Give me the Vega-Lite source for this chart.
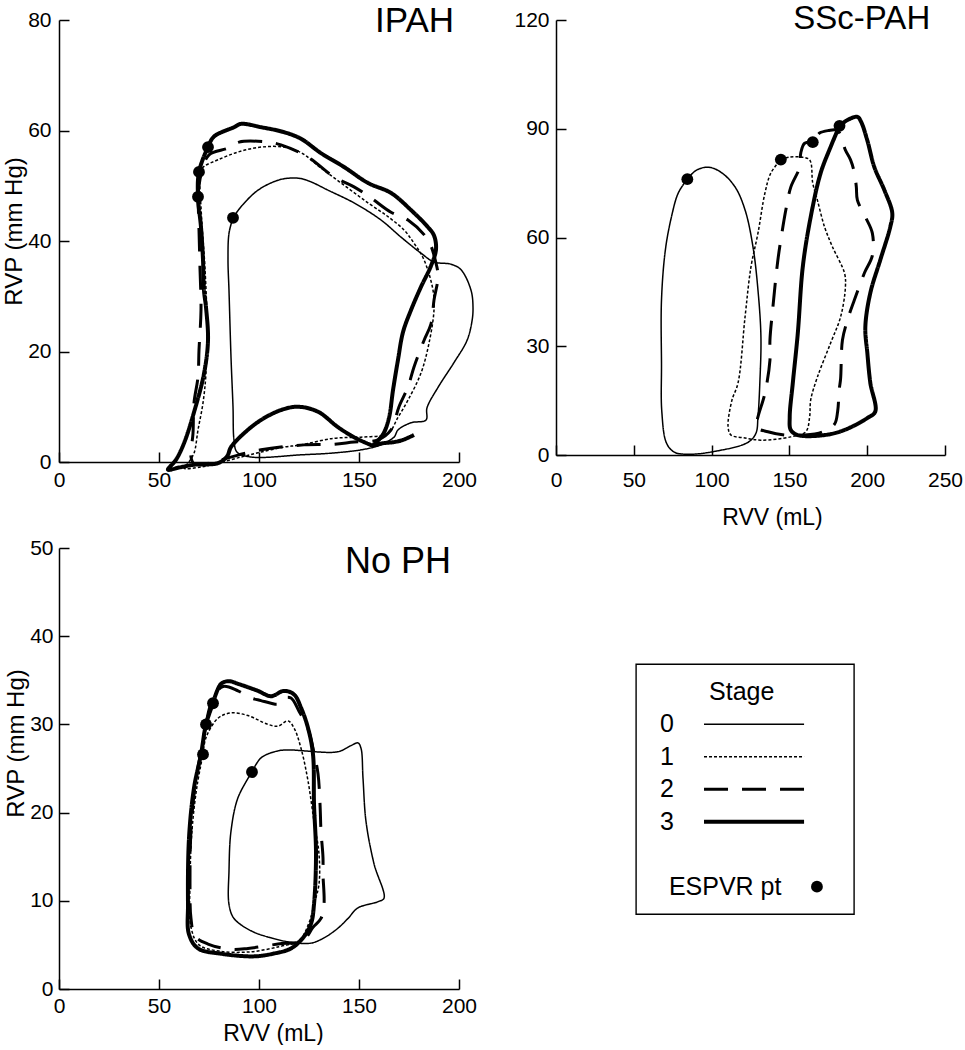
{
"$schema": "https://vega.github.io/schema/vega-lite/v6.json",
"padding": {"left": 2, "top": 3, "right": 0, "bottom": 0},
"background": "white",
"config": {
  "view": {"stroke": null},
  "font": "Liberation Sans",
  "axis": {"domainColor": "black", "domainWidth": 1.5, "tickColor": "black", "tickWidth": 1.5, "tickSize": -10, "grid": false,
    "labelFont": "Liberation Sans", "labelFontSize": 21, "labelColor": "black", "labelFlush": false, "labelOverlap": false, "labelBound": false,
    "titleFont": "Liberation Sans", "titleFontSize": 23, "titleFontWeight": "normal", "titleColor": "black"},
  "axisY": {"titleFontSize": 24},
  "text": {"font": "Liberation Sans", "color": "black"}
},
"datasets": {
"loops": [
{"panel":"IPAH","stage":"3","rvv":157,"rvp":3},{"panel":"IPAH","stage":"3","rvv":162,"rvp":5},{"panel":"IPAH","stage":"3","rvv":165,"rvp":8},{"panel":"IPAH","stage":"3","rvv":167,"rvp":13},{"panel":"IPAH","stage":"3","rvv":169.5,"rvp":18.5},{"panel":"IPAH","stage":"3","rvv":172,"rvp":23.5},{"panel":"IPAH","stage":"3","rvv":176,"rvp":27.5},{"panel":"IPAH","stage":"3","rvv":181,"rvp":31.7},{"panel":"IPAH","stage":"3","rvv":186,"rvp":35.5},{"panel":"IPAH","stage":"3","rvv":188.5,"rvp":38.5},{"panel":"IPAH","stage":"3","rvv":187.5,"rvp":41},{"panel":"IPAH","stage":"3","rvv":184.5,"rvp":42.5},{"panel":"IPAH","stage":"3","rvv":176,"rvp":45.6},{"panel":"IPAH","stage":"3","rvv":166,"rvp":48.7},{"panel":"IPAH","stage":"3","rvv":154.5,"rvp":50.5},{"panel":"IPAH","stage":"3","rvv":142.5,"rvp":53.4},{"panel":"IPAH","stage":"3","rvv":131,"rvp":55.9},{"panel":"IPAH","stage":"3","rvv":121,"rvp":58.5},{"panel":"IPAH","stage":"3","rvv":112.5,"rvp":59.7},{"panel":"IPAH","stage":"3","rvv":101,"rvp":60.6},{"panel":"IPAH","stage":"3","rvv":91,"rvp":61.2},{"panel":"IPAH","stage":"3","rvv":87.5,"rvp":60.6},{"panel":"IPAH","stage":"3","rvv":77.5,"rvp":58.9},{"panel":"IPAH","stage":"3","rvv":74.5,"rvp":57},{"panel":"IPAH","stage":"3","rvv":70,"rvp":52.5},{"panel":"IPAH","stage":"3","rvv":69.5,"rvp":48},{"panel":"IPAH","stage":"3","rvv":71,"rvp":42.5},{"panel":"IPAH","stage":"3","rvv":72,"rvp":36.6},{"panel":"IPAH","stage":"3","rvv":72.5,"rvp":31},{"panel":"IPAH","stage":"3","rvv":73.5,"rvp":28},{"panel":"IPAH","stage":"3","rvv":74.5,"rvp":22},{"panel":"IPAH","stage":"3","rvv":72.5,"rvp":16},{"panel":"IPAH","stage":"3","rvv":67.5,"rvp":9},{"panel":"IPAH","stage":"3","rvv":62.5,"rvp":3.4},{"panel":"IPAH","stage":"3","rvv":58.5,"rvp":0.4},{"panel":"IPAH","stage":"3","rvv":54.5,"rvp":-1.4},{"panel":"IPAH","stage":"3","rvv":60,"rvp":-1},{"panel":"IPAH","stage":"3","rvv":67.5,"rvp":-0.5},{"panel":"IPAH","stage":"3","rvv":79.5,"rvp":-0.2},{"panel":"IPAH","stage":"3","rvv":84,"rvp":1},{"panel":"IPAH","stage":"3","rvv":86,"rvp":2.7},{"panel":"IPAH","stage":"3","rvv":92.5,"rvp":5.2},{"panel":"IPAH","stage":"3","rvv":101,"rvp":7.6},{"panel":"IPAH","stage":"3","rvv":111,"rvp":9.4},{"panel":"IPAH","stage":"3","rvv":119.5,"rvp":10},{"panel":"IPAH","stage":"3","rvv":129.5,"rvp":9.1},{"panel":"IPAH","stage":"3","rvv":139.5,"rvp":6.3},{"panel":"IPAH","stage":"3","rvv":147.5,"rvp":4.5},{"panel":"IPAH","stage":"3","rvv":154.5,"rvp":3.3},{"panel":"IPAH","stage":"3","rvv":157,"rvp":3},{"panel":"IPAH","stage":"3","rvv":162,"rvp":3.4},{"panel":"IPAH","stage":"3","rvv":167.5,"rvp":3.6},{"panel":"IPAH","stage":"3","rvv":172,"rvp":4},{"panel":"IPAH","stage":"3","rvv":177.5,"rvp":4.9},
{"panel":"IPAH","stage":"2","rvv":69.5,"rvp":48},{"panel":"IPAH","stage":"2","rvv":71,"rvp":52},{"panel":"IPAH","stage":"2","rvv":75,"rvp":55.6},{"panel":"IPAH","stage":"2","rvv":84.5,"rvp":56.8},{"panel":"IPAH","stage":"2","rvv":90,"rvp":57.9},{"panel":"IPAH","stage":"2","rvv":104.5,"rvp":57.9},{"panel":"IPAH","stage":"2","rvv":111,"rvp":57.4},{"panel":"IPAH","stage":"2","rvv":124.5,"rvp":55.2},{"panel":"IPAH","stage":"2","rvv":137.5,"rvp":51.6},{"panel":"IPAH","stage":"2","rvv":147.5,"rvp":49.8},{"panel":"IPAH","stage":"2","rvv":156,"rvp":47.8},{"panel":"IPAH","stage":"2","rvv":166,"rvp":45.2},{"panel":"IPAH","stage":"2","rvv":174.5,"rvp":43.8},{"panel":"IPAH","stage":"2","rvv":184.5,"rvp":40.2},{"panel":"IPAH","stage":"2","rvv":188.5,"rvp":36},{"panel":"IPAH","stage":"2","rvv":189.5,"rvp":33.5},{"panel":"IPAH","stage":"2","rvv":187.5,"rvp":29.3},{"panel":"IPAH","stage":"2","rvv":186,"rvp":25},{"panel":"IPAH","stage":"2","rvv":182.5,"rvp":22},{"panel":"IPAH","stage":"2","rvv":177.5,"rvp":17.2},{"panel":"IPAH","stage":"2","rvv":174.5,"rvp":13.6},{"panel":"IPAH","stage":"2","rvv":170,"rvp":10},{"panel":"IPAH","stage":"2","rvv":166,"rvp":5.8},{"panel":"IPAH","stage":"2","rvv":159.5,"rvp":4},{"panel":"IPAH","stage":"2","rvv":147.5,"rvp":3.6},{"panel":"IPAH","stage":"2","rvv":137,"rvp":3.2},{"panel":"IPAH","stage":"2","rvv":122.5,"rvp":3.1},{"panel":"IPAH","stage":"2","rvv":101,"rvp":2.2},{"panel":"IPAH","stage":"2","rvv":85,"rvp":0.8},{"panel":"IPAH","stage":"2","rvv":75,"rvp":-0.2},{"panel":"IPAH","stage":"2","rvv":67.5,"rvp":-0.3},{"panel":"IPAH","stage":"2","rvv":66,"rvp":0.9},{"panel":"IPAH","stage":"2","rvv":67,"rvp":5.2},{"panel":"IPAH","stage":"2","rvv":67.5,"rvp":10.7},{"panel":"IPAH","stage":"2","rvv":69.5,"rvp":15.4},{"panel":"IPAH","stage":"2","rvv":70,"rvp":20.3},{"panel":"IPAH","stage":"2","rvv":71,"rvp":27.5},{"panel":"IPAH","stage":"2","rvv":70.5,"rvp":35},{"panel":"IPAH","stage":"2","rvv":70,"rvp":42},{"panel":"IPAH","stage":"2","rvv":69.5,"rvp":48},
{"panel":"IPAH","stage":"1","rvv":70,"rvp":52.5},{"panel":"IPAH","stage":"1","rvv":72.5,"rvp":53.5},{"panel":"IPAH","stage":"1","rvv":79.5,"rvp":54.7},{"panel":"IPAH","stage":"1","rvv":89.5,"rvp":56.1},{"panel":"IPAH","stage":"1","rvv":101,"rvp":57},{"panel":"IPAH","stage":"1","rvv":112.5,"rvp":57},{"panel":"IPAH","stage":"1","rvv":121,"rvp":56},{"panel":"IPAH","stage":"1","rvv":131,"rvp":53.2},{"panel":"IPAH","stage":"1","rvv":142.5,"rvp":50.1},{"panel":"IPAH","stage":"1","rvv":154.5,"rvp":46.9},{"panel":"IPAH","stage":"1","rvv":164.5,"rvp":44.4},{"panel":"IPAH","stage":"1","rvv":172.5,"rvp":42},{"panel":"IPAH","stage":"1","rvv":177.5,"rvp":39.6},{"panel":"IPAH","stage":"1","rvv":182.5,"rvp":36.6},{"panel":"IPAH","stage":"1","rvv":187,"rvp":31.1},{"panel":"IPAH","stage":"1","rvv":187.5,"rvp":27.5},{"panel":"IPAH","stage":"1","rvv":185,"rvp":21.5},{"panel":"IPAH","stage":"1","rvv":181,"rvp":16.1},{"panel":"IPAH","stage":"1","rvv":174.5,"rvp":11.2},{"panel":"IPAH","stage":"1","rvv":169.5,"rvp":8.1},{"panel":"IPAH","stage":"1","rvv":164.5,"rvp":5.2},{"panel":"IPAH","stage":"1","rvv":151,"rvp":4.5},{"panel":"IPAH","stage":"1","rvv":137.5,"rvp":4.3},{"panel":"IPAH","stage":"1","rvv":121,"rvp":3.1},{"panel":"IPAH","stage":"1","rvv":112.5,"rvp":2.7},{"panel":"IPAH","stage":"1","rvv":101,"rvp":1.8},{"panel":"IPAH","stage":"1","rvv":91,"rvp":0.9},{"panel":"IPAH","stage":"1","rvv":79.5,"rvp":-0.2},{"panel":"IPAH","stage":"1","rvv":71,"rvp":-0.9},{"panel":"IPAH","stage":"1","rvv":62.5,"rvp":-1.1},{"panel":"IPAH","stage":"1","rvv":64.5,"rvp":-0.2},{"panel":"IPAH","stage":"1","rvv":67.5,"rvp":1.6},{"panel":"IPAH","stage":"1","rvv":69.5,"rvp":5.8},{"panel":"IPAH","stage":"1","rvv":72,"rvp":10.7},{"panel":"IPAH","stage":"1","rvv":73.5,"rvp":16.1},{"panel":"IPAH","stage":"1","rvv":74,"rvp":25},{"panel":"IPAH","stage":"1","rvv":73,"rvp":35},{"panel":"IPAH","stage":"1","rvv":71.5,"rvp":43},{"panel":"IPAH","stage":"1","rvv":70,"rvp":52.5},
{"panel":"IPAH","stage":"0","rvv":87,"rvp":44.2},{"panel":"IPAH","stage":"0","rvv":91,"rvp":46.2},{"panel":"IPAH","stage":"0","rvv":99.5,"rvp":49.2},{"panel":"IPAH","stage":"0","rvv":109.5,"rvp":51},{"panel":"IPAH","stage":"0","rvv":116,"rvp":51.4},{"panel":"IPAH","stage":"0","rvv":121,"rvp":51.3},{"panel":"IPAH","stage":"0","rvv":126,"rvp":50.7},{"panel":"IPAH","stage":"0","rvv":134.5,"rvp":49.2},{"panel":"IPAH","stage":"0","rvv":147.5,"rvp":46.9},{"panel":"IPAH","stage":"0","rvv":161,"rvp":43.8},{"panel":"IPAH","stage":"0","rvv":171,"rvp":40.7},{"panel":"IPAH","stage":"0","rvv":181,"rvp":37.8},{"panel":"IPAH","stage":"0","rvv":187.5,"rvp":36.2},{"panel":"IPAH","stage":"0","rvv":196,"rvp":35.8},{"panel":"IPAH","stage":"0","rvv":201,"rvp":34.8},{"panel":"IPAH","stage":"0","rvv":206,"rvp":31.1},{"panel":"IPAH","stage":"0","rvv":207,"rvp":28},{"panel":"IPAH","stage":"0","rvv":206.5,"rvp":25.5},{"panel":"IPAH","stage":"0","rvv":204,"rvp":22},{"panel":"IPAH","stage":"0","rvv":197.5,"rvp":18},{"panel":"IPAH","stage":"0","rvv":189.5,"rvp":13.5},{"panel":"IPAH","stage":"0","rvv":184,"rvp":9.8},{"panel":"IPAH","stage":"0","rvv":183.5,"rvp":7.6},{"panel":"IPAH","stage":"0","rvv":176,"rvp":7.1},{"panel":"IPAH","stage":"0","rvv":169.5,"rvp":5.8},{"panel":"IPAH","stage":"0","rvv":167.5,"rvp":4.5},{"panel":"IPAH","stage":"0","rvv":160,"rvp":3},{"panel":"IPAH","stage":"0","rvv":151,"rvp":2.2},{"panel":"IPAH","stage":"0","rvv":136,"rvp":1.6},{"panel":"IPAH","stage":"0","rvv":121,"rvp":1.3},{"panel":"IPAH","stage":"0","rvv":96,"rvp":0.9},{"panel":"IPAH","stage":"0","rvv":89,"rvp":1.8},{"panel":"IPAH","stage":"0","rvv":87.5,"rvp":4},{"panel":"IPAH","stage":"0","rvv":87,"rvp":10},{"panel":"IPAH","stage":"0","rvv":86,"rvp":19},{"panel":"IPAH","stage":"0","rvv":85,"rvp":31},{"panel":"IPAH","stage":"0","rvv":84.5,"rvp":36.6},{"panel":"IPAH","stage":"0","rvv":85,"rvp":41.4},{"panel":"IPAH","stage":"0","rvv":87,"rvp":44.2},
{"panel":"SSc","stage":"0","rvv":84.4,"rvp":76.1},{"panel":"SSc","stage":"0","rvv":90,"rvp":78.5},{"panel":"SSc","stage":"0","rvv":97.8,"rvp":79.4},{"panel":"SSc","stage":"0","rvv":106,"rvp":78},{"panel":"SSc","stage":"0","rvv":115,"rvp":74},{"panel":"SSc","stage":"0","rvv":121.5,"rvp":67.6},{"panel":"SSc","stage":"0","rvv":126.6,"rvp":57.4},{"panel":"SSc","stage":"0","rvv":129.8,"rvp":45.5},{"panel":"SSc","stage":"0","rvv":131.7,"rvp":32.6},{"panel":"SSc","stage":"0","rvv":131,"rvp":19.9},{"panel":"SSc","stage":"0","rvv":129.8,"rvp":10.5},{"panel":"SSc","stage":"0","rvv":128.5,"rvp":6},{"panel":"SSc","stage":"0","rvv":123.4,"rvp":3.5},{"panel":"SSc","stage":"0","rvv":102,"rvp":1},{"panel":"SSc","stage":"0","rvv":85,"rvp":0.2},{"panel":"SSc","stage":"0","rvv":76,"rvp":0.8},{"panel":"SSc","stage":"0","rvv":71,"rvp":3.3},{"panel":"SSc","stage":"0","rvv":68,"rvp":12},{"panel":"SSc","stage":"0","rvv":67.8,"rvp":25},{"panel":"SSc","stage":"0","rvv":67.8,"rvp":42.8},{"panel":"SSc","stage":"0","rvv":70.3,"rvp":56.6},{"panel":"SSc","stage":"0","rvv":74.2,"rvp":65.7},{"panel":"SSc","stage":"0","rvv":78.6,"rvp":72.3},{"panel":"SSc","stage":"0","rvv":84.4,"rvp":76.1},
{"panel":"SSc","stage":"1","rvv":144.5,"rvp":81.5},{"panel":"SSc","stage":"1","rvv":150,"rvp":82.2},{"panel":"SSc","stage":"1","rvv":157.3,"rvp":82.2},{"panel":"SSc","stage":"1","rvv":163,"rvp":81.4},{"panel":"SSc","stage":"1","rvv":165,"rvp":75},{"panel":"SSc","stage":"1","rvv":168,"rvp":70.3},{"panel":"SSc","stage":"1","rvv":172.6,"rvp":62.9},{"panel":"SSc","stage":"1","rvv":177.7,"rvp":57.4},{"panel":"SSc","stage":"1","rvv":185.4,"rvp":50.2},{"panel":"SSc","stage":"1","rvv":186,"rvp":46.3},{"panel":"SSc","stage":"1","rvv":182.9,"rvp":38.1},{"panel":"SSc","stage":"1","rvv":176.5,"rvp":30.9},{"panel":"SSc","stage":"1","rvv":168,"rvp":21.5},{"panel":"SSc","stage":"1","rvv":163.7,"rvp":15.2},{"panel":"SSc","stage":"1","rvv":163,"rvp":10.5},{"panel":"SSc","stage":"1","rvv":160.5,"rvp":6.4},{"panel":"SSc","stage":"1","rvv":150.9,"rvp":5},{"panel":"SSc","stage":"1","rvv":131.7,"rvp":4.1},{"panel":"SSc","stage":"1","rvv":121.5,"rvp":4.7},{"panel":"SSc","stage":"1","rvv":112.5,"rvp":5.5},{"panel":"SSc","stage":"1","rvv":110.6,"rvp":7.7},{"panel":"SSc","stage":"1","rvv":113,"rvp":15},{"panel":"SSc","stage":"1","rvv":117,"rvp":19.9},{"panel":"SSc","stage":"1","rvv":121.5,"rvp":38.1},{"panel":"SSc","stage":"1","rvv":125.3,"rvp":51.9},{"panel":"SSc","stage":"1","rvv":129.8,"rvp":61.2},{"panel":"SSc","stage":"1","rvv":134.3,"rvp":72.3},{"panel":"SSc","stage":"1","rvv":138.1,"rvp":77.8},{"panel":"SSc","stage":"1","rvv":144.5,"rvp":81.5},
{"panel":"SSc","stage":"2","rvv":165,"rvp":86.3},{"panel":"SSc","stage":"2","rvv":159.8,"rvp":86},{"panel":"SSc","stage":"2","rvv":157.3,"rvp":83.3},{"panel":"SSc","stage":"2","rvv":156.6,"rvp":79.4},{"panel":"SSc","stage":"2","rvv":150.9,"rvp":73.9},{"panel":"SSc","stage":"2","rvv":147.7,"rvp":67.6},{"panel":"SSc","stage":"2","rvv":145.8,"rvp":62.9},{"panel":"SSc","stage":"2","rvv":142.6,"rvp":53.8},{"panel":"SSc","stage":"2","rvv":139.4,"rvp":40.8},{"panel":"SSc","stage":"2","rvv":137.5,"rvp":31.7},{"panel":"SSc","stage":"2","rvv":137.5,"rvp":26.2},{"panel":"SSc","stage":"2","rvv":134.3,"rvp":17.1},{"panel":"SSc","stage":"2","rvv":129.8,"rvp":10.5},{"panel":"SSc","stage":"2","rvv":128.5,"rvp":7.7},{"panel":"SSc","stage":"2","rvv":136.2,"rvp":6.4},{"panel":"SSc","stage":"2","rvv":147,"rvp":5.5},{"panel":"SSc","stage":"2","rvv":160,"rvp":5.5},{"panel":"SSc","stage":"2","rvv":172,"rvp":6.5},{"panel":"SSc","stage":"2","rvv":179,"rvp":8.5},{"panel":"SSc","stage":"2","rvv":181,"rvp":12},{"panel":"SSc","stage":"2","rvv":182,"rvp":18},{"panel":"SSc","stage":"2","rvv":182.9,"rvp":21},{"panel":"SSc","stage":"2","rvv":184.1,"rvp":31.7},{"panel":"SSc","stage":"2","rvv":187.3,"rvp":37.2},{"panel":"SSc","stage":"2","rvv":191.8,"rvp":42.8},{"panel":"SSc","stage":"2","rvv":198.2,"rvp":50.2},{"panel":"SSc","stage":"2","rvv":203.3,"rvp":55},{"panel":"SSc","stage":"2","rvv":203.3,"rvp":61.2},{"panel":"SSc","stage":"2","rvv":198.8,"rvp":65.7},{"panel":"SSc","stage":"2","rvv":193.7,"rvp":70.3},{"panel":"SSc","stage":"2","rvv":193,"rvp":74},{"panel":"SSc","stage":"2","rvv":191.8,"rvp":77.8},{"panel":"SSc","stage":"2","rvv":189.3,"rvp":81.4},{"panel":"SSc","stage":"2","rvv":186,"rvp":84.1},{"panel":"SSc","stage":"2","rvv":181,"rvp":89.5},{"panel":"SSc","stage":"2","rvv":175,"rvp":89.5},{"panel":"SSc","stage":"2","rvv":169.4,"rvp":88.8},{"panel":"SSc","stage":"2","rvv":165,"rvp":86.3},
{"panel":"SSc","stage":"3","rvv":182.2,"rvp":90.8},{"panel":"SSc","stage":"3","rvv":187.3,"rvp":92.4},{"panel":"SSc","stage":"3","rvv":193.7,"rvp":93.3},{"panel":"SSc","stage":"3","rvv":196,"rvp":92},{"panel":"SSc","stage":"3","rvv":200,"rvp":86.9},{"panel":"SSc","stage":"3","rvv":204.6,"rvp":79.4},{"panel":"SSc","stage":"3","rvv":211,"rvp":73.1},{"panel":"SSc","stage":"3","rvv":216.1,"rvp":66.8},{"panel":"SSc","stage":"3","rvv":214.8,"rvp":62.9},{"panel":"SSc","stage":"3","rvv":208.4,"rvp":53.8},{"panel":"SSc","stage":"3","rvv":202,"rvp":44.7},{"panel":"SSc","stage":"3","rvv":198.8,"rvp":35.3},{"panel":"SSc","stage":"3","rvv":200.1,"rvp":28.1},{"panel":"SSc","stage":"3","rvv":202,"rvp":19.9},{"panel":"SSc","stage":"3","rvv":205.2,"rvp":12},{"panel":"SSc","stage":"3","rvv":200.1,"rvp":10.2},{"panel":"SSc","stage":"3","rvv":185.4,"rvp":6.9},{"panel":"SSc","stage":"3","rvv":172.6,"rvp":5.5},{"panel":"SSc","stage":"3","rvv":155.4,"rvp":5.5},{"panel":"SSc","stage":"3","rvv":150.9,"rvp":6.9},{"panel":"SSc","stage":"3","rvv":150.2,"rvp":10.5},{"panel":"SSc","stage":"3","rvv":152.2,"rvp":19.9},{"panel":"SSc","stage":"3","rvv":155.4,"rvp":33.6},{"panel":"SSc","stage":"3","rvv":158.6,"rvp":51.9},{"panel":"SSc","stage":"3","rvv":163.7,"rvp":65.7},{"panel":"SSc","stage":"3","rvv":170.1,"rvp":77.8},{"panel":"SSc","stage":"3","rvv":176.5,"rvp":85},{"panel":"SSc","stage":"3","rvv":182.2,"rvp":90.8},
{"panel":"NoPH","stage":"0","rvv":96.5,"rvp":24.6},{"panel":"NoPH","stage":"0","rvv":101,"rvp":26.2},{"panel":"NoPH","stage":"0","rvv":109.5,"rvp":27},{"panel":"NoPH","stage":"0","rvv":116,"rvp":27.1},{"panel":"NoPH","stage":"0","rvv":122.5,"rvp":27},{"panel":"NoPH","stage":"0","rvv":139.5,"rvp":26.9},{"panel":"NoPH","stage":"0","rvv":146,"rvp":27.6},{"panel":"NoPH","stage":"0","rvv":149.5,"rvp":27.9},{"panel":"NoPH","stage":"0","rvv":151,"rvp":27.3},{"panel":"NoPH","stage":"0","rvv":152,"rvp":23.9},{"panel":"NoPH","stage":"0","rvv":153.5,"rvp":19},{"panel":"NoPH","stage":"0","rvv":157.5,"rvp":14.2},{"panel":"NoPH","stage":"0","rvv":162.5,"rvp":10.3},{"panel":"NoPH","stage":"0","rvv":159.5,"rvp":9.9},{"panel":"NoPH","stage":"0","rvv":149.5,"rvp":9.2},{"panel":"NoPH","stage":"0","rvv":144.5,"rvp":8},{"panel":"NoPH","stage":"0","rvv":139.5,"rvp":6.9},{"panel":"NoPH","stage":"0","rvv":132.5,"rvp":5.8},{"panel":"NoPH","stage":"0","rvv":126,"rvp":5.2},{"panel":"NoPH","stage":"0","rvv":116,"rvp":5.3},{"panel":"NoPH","stage":"0","rvv":106,"rvp":5.8},{"panel":"NoPH","stage":"0","rvv":96,"rvp":6.6},{"panel":"NoPH","stage":"0","rvv":87.5,"rvp":8},{"panel":"NoPH","stage":"0","rvv":85,"rvp":9.6},{"panel":"NoPH","stage":"0","rvv":85,"rvp":13.4},{"panel":"NoPH","stage":"0","rvv":86,"rvp":17.9},{"panel":"NoPH","stage":"0","rvv":89.5,"rvp":21.7},{"panel":"NoPH","stage":"0","rvv":96.5,"rvp":24.6},
{"panel":"NoPH","stage":"1","rvv":72,"rvp":26.6},{"panel":"NoPH","stage":"1","rvv":73.5,"rvp":28.5},{"panel":"NoPH","stage":"1","rvv":79.5,"rvp":30.7},{"panel":"NoPH","stage":"1","rvv":86,"rvp":31.3},{"panel":"NoPH","stage":"1","rvv":94.5,"rvp":31},{"panel":"NoPH","stage":"1","rvv":104.5,"rvp":30},{"panel":"NoPH","stage":"1","rvv":109.5,"rvp":29.8},{"panel":"NoPH","stage":"1","rvv":114.5,"rvp":30.4},{"panel":"NoPH","stage":"1","rvv":117.5,"rvp":29.6},{"panel":"NoPH","stage":"1","rvv":121,"rvp":27.3},{"panel":"NoPH","stage":"1","rvv":124.5,"rvp":23.6},{"panel":"NoPH","stage":"1","rvv":127.5,"rvp":19},{"panel":"NoPH","stage":"1","rvv":130,"rvp":15.3},{"panel":"NoPH","stage":"1","rvv":130,"rvp":11.9},{"panel":"NoPH","stage":"1","rvv":127.5,"rvp":9.6},{"panel":"NoPH","stage":"1","rvv":125,"rvp":7.5},{"panel":"NoPH","stage":"1","rvv":120,"rvp":5.5},{"panel":"NoPH","stage":"1","rvv":110,"rvp":4.8},{"panel":"NoPH","stage":"1","rvv":95,"rvp":4.2},{"panel":"NoPH","stage":"1","rvv":80,"rvp":4.3},{"panel":"NoPH","stage":"1","rvv":70,"rvp":5},{"panel":"NoPH","stage":"1","rvv":66,"rvp":7},{"panel":"NoPH","stage":"1","rvv":65.5,"rvp":12},{"panel":"NoPH","stage":"1","rvv":66.5,"rvp":18},{"panel":"NoPH","stage":"1","rvv":69,"rvp":23},{"panel":"NoPH","stage":"1","rvv":72,"rvp":26.6},
{"panel":"NoPH","stage":"2","rvv":73.5,"rvp":30},{"panel":"NoPH","stage":"2","rvv":77,"rvp":33},{"panel":"NoPH","stage":"2","rvv":82,"rvp":34.3},{"panel":"NoPH","stage":"2","rvv":89.5,"rvp":33.8},{"panel":"NoPH","stage":"2","rvv":96,"rvp":33},{"panel":"NoPH","stage":"2","rvv":101,"rvp":32.7},{"panel":"NoPH","stage":"2","rvv":106,"rvp":32.4},{"panel":"NoPH","stage":"2","rvv":109.5,"rvp":32.3},{"panel":"NoPH","stage":"2","rvv":112.5,"rvp":33},{"panel":"NoPH","stage":"2","rvv":116,"rvp":33},{"panel":"NoPH","stage":"2","rvv":120,"rvp":31.5},{"panel":"NoPH","stage":"2","rvv":124.5,"rvp":29.5},{"panel":"NoPH","stage":"2","rvv":127,"rvp":27.3},{"panel":"NoPH","stage":"2","rvv":129.5,"rvp":24.4},{"panel":"NoPH","stage":"2","rvv":130.5,"rvp":21},{"panel":"NoPH","stage":"2","rvv":131,"rvp":17.9},{"panel":"NoPH","stage":"2","rvv":132,"rvp":14.9},{"panel":"NoPH","stage":"2","rvv":132,"rvp":13},{"panel":"NoPH","stage":"2","rvv":132.5,"rvp":9.6},{"panel":"NoPH","stage":"2","rvv":131,"rvp":8},{"panel":"NoPH","stage":"2","rvv":127,"rvp":7},{"panel":"NoPH","stage":"2","rvv":122,"rvp":5.5},{"panel":"NoPH","stage":"2","rvv":109.5,"rvp":5.1},{"panel":"NoPH","stage":"2","rvv":94.5,"rvp":4.6},{"panel":"NoPH","stage":"2","rvv":86,"rvp":4.5},{"panel":"NoPH","stage":"2","rvv":74.5,"rvp":5.1},{"panel":"NoPH","stage":"2","rvv":68,"rvp":6},{"panel":"NoPH","stage":"2","rvv":66,"rvp":8},{"panel":"NoPH","stage":"2","rvv":65.5,"rvp":12},{"panel":"NoPH","stage":"2","rvv":66,"rvp":18},{"panel":"NoPH","stage":"2","rvv":68,"rvp":23},{"panel":"NoPH","stage":"2","rvv":71,"rvp":27},{"panel":"NoPH","stage":"2","rvv":73.5,"rvp":30},
{"panel":"NoPH","stage":"3","rvv":77,"rvp":32.4},{"panel":"NoPH","stage":"3","rvv":81,"rvp":34.6},{"panel":"NoPH","stage":"3","rvv":85,"rvp":34.9},{"panel":"NoPH","stage":"3","rvv":89.5,"rvp":34.6},{"panel":"NoPH","stage":"3","rvv":99.5,"rvp":33.8},{"panel":"NoPH","stage":"3","rvv":106,"rvp":33.2},{"panel":"NoPH","stage":"3","rvv":112.5,"rvp":33.8},{"panel":"NoPH","stage":"3","rvv":117.5,"rvp":33.4},{"panel":"NoPH","stage":"3","rvv":121,"rvp":31.9},{"panel":"NoPH","stage":"3","rvv":124.5,"rvp":29.6},{"panel":"NoPH","stage":"3","rvv":127,"rvp":26.6},{"panel":"NoPH","stage":"3","rvv":127.5,"rvp":21},{"panel":"NoPH","stage":"3","rvv":128.5,"rvp":15.3},{"panel":"NoPH","stage":"3","rvv":127.5,"rvp":9.6},{"panel":"NoPH","stage":"3","rvv":126,"rvp":7.4},{"panel":"NoPH","stage":"3","rvv":122,"rvp":5.8},{"panel":"NoPH","stage":"3","rvv":116,"rvp":4.6},{"panel":"NoPH","stage":"3","rvv":107,"rvp":4},{"panel":"NoPH","stage":"3","rvv":97.5,"rvp":3.7},{"panel":"NoPH","stage":"3","rvv":81,"rvp":4},{"panel":"NoPH","stage":"3","rvv":69.5,"rvp":4.6},{"panel":"NoPH","stage":"3","rvv":65,"rvp":6.2},{"panel":"NoPH","stage":"3","rvv":64.5,"rvp":9.6},{"panel":"NoPH","stage":"3","rvv":65,"rvp":17.1},{"panel":"NoPH","stage":"3","rvv":67.5,"rvp":22.8},{"panel":"NoPH","stage":"3","rvv":71,"rvp":26.6},{"panel":"NoPH","stage":"3","rvv":73.5,"rvp":30},{"panel":"NoPH","stage":"3","rvv":77,"rvp":32.4}
],
"esp": [
{"panel":"IPAH","stage":"3","rvv":74.5,"rvp":57},{"panel":"IPAH","stage":"1","rvv":70,"rvp":52.5},{"panel":"IPAH","stage":"2","rvv":69.5,"rvp":48},{"panel":"IPAH","stage":"0","rvv":87,"rvp":44.2},
{"panel":"SSc","stage":"0","rvv":84.4,"rvp":76.1},{"panel":"SSc","stage":"1","rvv":144.5,"rvp":81.5},{"panel":"SSc","stage":"2","rvv":165,"rvp":86.3},{"panel":"SSc","stage":"3","rvv":182.2,"rvp":90.8},
{"panel":"NoPH","stage":"0","rvv":96.5,"rvp":24.6},{"panel":"NoPH","stage":"1","rvv":72,"rvp":26.6},{"panel":"NoPH","stage":"2","rvv":73.5,"rvp":30},{"panel":"NoPH","stage":"3","rvv":77,"rvp":32.4}
],
"legend": [
{"entry":"Stage"},{"entry":"0","stage":"0"},{"entry":"1","stage":"1"},{"entry":"2","stage":"2"},{"entry":"3","stage":"3"},{"entry":"ESPVR pt"}
]
},
"spacing": 8,
"vconcat": [
{"hconcat": [
 {"width": 400, "height": 442,
  "layer": [
   {"data": {"name": "loops"}, "transform": [{"filter": "datum.panel === 'IPAH'"}],
    "mark": {"type": "line", "color": "black", "interpolate": "catmull-rom"},
    "encoding": {
     "x": {"field": "rvv", "type": "quantitative", "scale": {"domain": [0, 200], "nice": false, "zero": false}, "axis": {"values": [0, 50, 100, 150, 200], "title": null, "labelPadding": 17}},
     "y": {"field": "rvp", "type": "quantitative", "scale": {"domain": [0, 80], "nice": false, "zero": false}, "axis": {"values": [0, 20, 40, 60, 80], "title": "RVP (mm Hg)", "labelPadding": 18, "titlePadding": 1, "titleY": 211}},
     "detail": {"field": "stage"},
     "strokeDash": {"field": "stage", "type": "nominal", "scale": {"type": "ordinal", "domain": ["0", "1", "2", "3"], "range": [[1, 0], [3, 2], [24, 14], [1, 0]]}, "legend": null},
     "strokeWidth": {"field": "stage", "type": "nominal", "scale": {"type": "ordinal", "domain": ["0", "1", "2", "3"], "range": [1.5, 1.5, 3, 4]}, "legend": null},
     "order": {"value": null}}},
   {"data": {"name": "esp"}, "transform": [{"filter": "datum.panel === 'IPAH'"}],
    "mark": {"type": "point", "filled": true, "color": "black", "opacity": 1, "size": 140},
    "encoding": {"x": {"field": "rvv", "type": "quantitative"}, "y": {"field": "rvp", "type": "quantitative"}}},
   {"data": {"values": [{"name": "IPAH"}]},
    "mark": {"type": "text", "fontSize": 35, "align": "right", "baseline": "alphabetic"},
    "encoding": {"x": {"datum": 197.5, "type": "quantitative"}, "y": {"datum": 77.8, "type": "quantitative"}, "text": {"field": "name"}}}
  ]},
 {"width": 389, "height": 435,
  "layer": [
   {"data": {"name": "loops"}, "transform": [{"filter": "datum.panel === 'SSc'"}],
    "mark": {"type": "line", "color": "black", "interpolate": "catmull-rom"},
    "encoding": {
     "x": {"field": "rvv", "type": "quantitative", "scale": {"domain": [0, 250], "nice": false, "zero": false}, "axis": {"values": [0, 50, 100, 150, 200, 250], "title": "RVV (mL)", "labelPadding": 24, "titlePadding": 16, "titleX": 216}},
     "y": {"field": "rvp", "type": "quantitative", "scale": {"domain": [0, 120], "nice": false, "zero": false}, "axis": {"values": [0, 30, 60, 90, 120], "title": null, "labelPadding": 17}},
     "detail": {"field": "stage"},
     "strokeDash": {"field": "stage", "type": "nominal", "scale": {"type": "ordinal", "domain": ["0", "1", "2", "3"], "range": [[1, 0], [3, 2], [24, 14], [1, 0]]}, "legend": null},
     "strokeWidth": {"field": "stage", "type": "nominal", "scale": {"type": "ordinal", "domain": ["0", "1", "2", "3"], "range": [1.5, 1.5, 3, 4]}, "legend": null},
     "order": {"value": null}}},
   {"data": {"name": "esp"}, "transform": [{"filter": "datum.panel === 'SSc'"}],
    "mark": {"type": "point", "filled": true, "color": "black", "opacity": 1, "size": 140},
    "encoding": {"x": {"field": "rvv", "type": "quantitative"}, "y": {"field": "rvp", "type": "quantitative"}}},
   {"data": {"values": [{"name": "SSc-PAH"}]},
    "mark": {"type": "text", "fontSize": 33, "align": "right", "baseline": "alphabetic"},
    "encoding": {"x": {"datum": 240.5, "type": "quantitative"}, "y": {"datum": 117.5, "type": "quantitative"}, "text": {"field": "name"}}}
  ]}
], "spacing": 36},
{"hconcat": [
 {"width": 400, "height": 441,
  "layer": [
   {"data": {"name": "loops"}, "transform": [{"filter": "datum.panel === 'NoPH'"}],
    "mark": {"type": "line", "color": "black", "interpolate": "catmull-rom"},
    "encoding": {
     "x": {"field": "rvv", "type": "quantitative", "scale": {"domain": [0, 200], "nice": false, "zero": false}, "axis": {"values": [0, 50, 100, 150, 200], "title": "RVV (mL)", "labelPadding": 16, "titlePadding": 6, "titleX": 214}},
     "y": {"field": "rvp", "type": "quantitative", "scale": {"domain": [0, 50], "nice": false, "zero": false}, "axis": {"values": [0, 10, 20, 30, 40, 50], "title": "RVP (mm Hg)", "labelPadding": 16, "titlePadding": 1, "titleY": 195}},
     "detail": {"field": "stage"},
     "strokeDash": {"field": "stage", "type": "nominal", "scale": {"type": "ordinal", "domain": ["0", "1", "2", "3"], "range": [[1, 0], [3, 2], [24, 14], [1, 0]]}, "legend": null},
     "strokeWidth": {"field": "stage", "type": "nominal", "scale": {"type": "ordinal", "domain": ["0", "1", "2", "3"], "range": [1.5, 1.5, 3, 4]}, "legend": null},
     "order": {"value": null}}},
   {"data": {"name": "esp"}, "transform": [{"filter": "datum.panel === 'NoPH'"}],
    "mark": {"type": "point", "filled": true, "color": "black", "opacity": 1, "size": 140},
    "encoding": {"x": {"field": "rvv", "type": "quantitative"}, "y": {"field": "rvp", "type": "quantitative"}}},
   {"data": {"values": [{"name": "No PH"}]},
    "mark": {"type": "text", "fontSize": 36, "align": "right", "baseline": "alphabetic"},
    "encoding": {"x": {"datum": 196, "type": "quantitative"}, "y": {"datum": 47.2, "type": "quantitative"}, "text": {"field": "name"}}}
  ]},
 {"width": 218, "height": 250,
  "view": {"stroke": "black", "strokeWidth": 1.4},
  "data": {"name": "legend"},
  "encoding": {"y": {"field": "entry", "type": "nominal", "scale": {"type": "point", "domain": ["Stage", "0", "1", "2", "3", "gap", "ESPVR pt"], "padding": 0.846}, "axis": null}},
  "layer": [
   {"transform": [{"filter": "datum.entry === 'Stage'"}],
    "mark": {"type": "text", "fontSize": 25, "align": "center", "baseline": "middle"},
    "encoding": {"x": {"datum": 0.485, "type": "quantitative", "scale": {"domain": [0, 1]}, "axis": {"title": " ", "domain": false, "ticks": false, "labels": false, "grid": false, "titlePadding": 0, "titleFontSize": 14}}, "text": {"field": "entry"}}},
   {"transform": [{"filter": "isValid(datum.stage)"}],
    "mark": {"type": "text", "fontSize": 25, "align": "center", "baseline": "middle"},
    "encoding": {"x": {"datum": 0.142, "type": "quantitative", "scale": {"domain": [0, 1]}}, "text": {"field": "stage"}}},
   {"transform": [{"filter": "isValid(datum.stage)"}],
    "mark": {"type": "rule", "color": "black"},
    "encoding": {"x": {"datum": 0.312, "type": "quantitative", "scale": {"domain": [0, 1]}}, "x2": {"datum": 0.771},
     "strokeDash": {"field": "stage", "type": "nominal", "scale": {"type": "ordinal", "domain": ["0", "1", "2", "3"], "range": [[1, 0], [3, 2], [24, 14], [1, 0]]}, "legend": null},
     "strokeWidth": {"field": "stage", "type": "nominal", "scale": {"type": "ordinal", "domain": ["0", "1", "2", "3"], "range": [1.5, 1.5, 3, 4]}, "legend": null}}},
   {"transform": [{"filter": "datum.entry === 'ESPVR pt'"}],
    "mark": {"type": "text", "fontSize": 25, "align": "left", "baseline": "middle"},
    "encoding": {"x": {"datum": 0.151, "type": "quantitative", "scale": {"domain": [0, 1]}}, "text": {"field": "entry"}}},
   {"transform": [{"filter": "datum.entry === 'ESPVR pt'"}],
    "mark": {"type": "point", "filled": true, "color": "black", "opacity": 1, "size": 140},
    "encoding": {"x": {"datum": 0.83, "type": "quantitative", "scale": {"domain": [0, 1]}}}}
  ]}
], "spacing": 158, "center": true}
]
}
